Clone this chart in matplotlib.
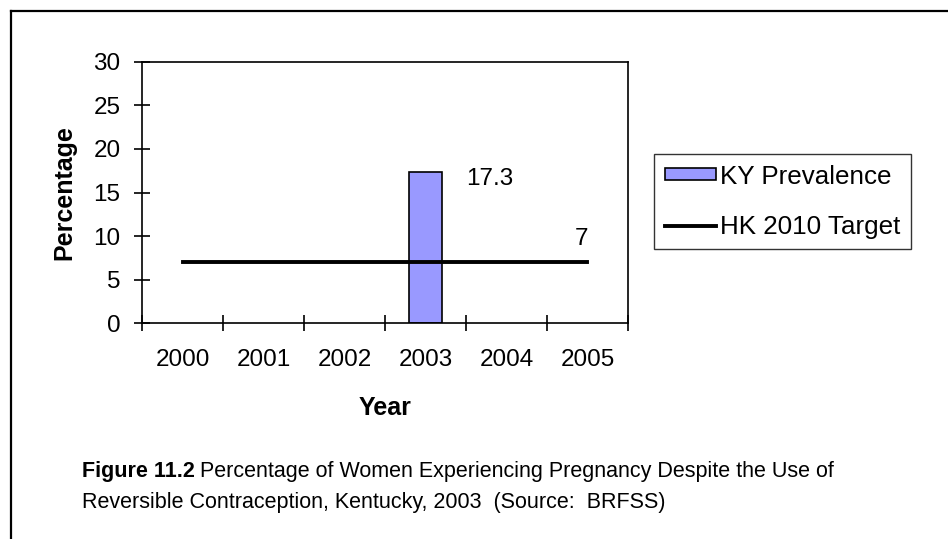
import numpy as np
import matplotlib
matplotlib.use("Agg")
import matplotlib.pyplot as plt
from matplotlib.lines import Line2D

# ---------------------------------------------------------
# data
# ---------------------------------------------------------
years = ['2000', '2001', '2002', '2003', '2004', '2005']
ky_years = ['2003']
ky_prevalence = [17.3]
hk_target = [7, 7, 7, 7, 7, 7]
y_ticks = [0, 5, 10, 15, 20, 25, 30]

plt.rcParams['font.family'] = ['Liberation Sans', 'DejaVu Sans']
FS = 17.5
CAP_FS = 15.5

fig = plt.figure(figsize=(9.48, 5.39), dpi=100)
ax = fig.add_axes([0.1498, 0.4007, 0.5126, 0.4843])

x = np.arange(len(years))
ky_x = [years.index(yr) for yr in ky_years]
bars = ax.bar(ky_x, ky_prevalence, width=0.4, color='#9999FF', edgecolor='black',
              linewidth=1.2, label='KY Prevalence', zorder=2)
line, = ax.plot(x, hk_target, color='black', linewidth=2.8, label='HK 2010 Target', zorder=3)

# value labels
for xi, v in zip(ky_x, ky_prevalence):
    ax.annotate(f"{v:.1f}", (xi, v), xytext=(29, -5), textcoords='offset points',
                ha='left', va='center', fontsize=FS)
ax.annotate(f"{hk_target[-1]}", (x[-1], hk_target[-1]), xytext=(-4, 17),
            textcoords='offset points', ha='center', va='center', fontsize=FS)

# axes
ax.set_xlim(-0.5, len(years) - 0.5)
ax.set_ylim(0, 30)
ax.set_yticks(y_ticks)
ax.set_xticks(np.arange(len(years) + 1) - 0.5)
ax.set_xticklabels([])
ax.set_xticks(x, minor=True)
ax.set_xticklabels(years, minor=True, fontsize=FS)
ax.tick_params(axis='x', which='major', direction='inout', length=11.5, width=1.2)
ax.tick_params(axis='x', which='minor', length=0, pad=19)
ax.tick_params(axis='y', direction='inout', length=12, width=1.2, pad=9.5, labelsize=FS)
for sp in ax.spines.values():
    sp.set_linewidth(1.2)
    sp.set_color('black')

ax.set_ylabel('Percentage', fontsize=18, fontweight='bold', labelpad=12)
ax.set_xlabel('Year', fontsize=18, fontweight='bold', labelpad=18)

leg = ax.legend([bars, line], ['KY Prevalence', 'HK 2010 Target'],
                loc='upper left', bbox_to_anchor=(0.690, 0.714), bbox_transform=fig.transFigure,
                borderaxespad=0, fontsize=18.7, frameon=True, fancybox=False, edgecolor='black',
                handlelength=2.0, handleheight=0.3, handletextpad=0.15, labelspacing=1.0,
                borderpad=0.4)
leg.get_frame().set_linewidth(1.0)

# caption
cap = fig.text(82 / 948, 1 - 477 / 539, 'Figure 11.2', fontsize=CAP_FS, fontweight='bold',
               ha='left', va='baseline')
fig.text(82 / 948, 1 - 508 / 539, 'Reversible Contraception, Kentucky, 2003  (Source:  BRFSS)',
         fontsize=CAP_FS, ha='left', va='baseline')
ax.annotate('Percentage of Women Experiencing Pregnancy Despite the Use of',
            xy=(1, 0), xycoords=cap, xytext=(4, 0), textcoords='offset points',
            fontsize=CAP_FS, ha='left', va='bottom', annotation_clip=False)

# page frame (left and top)
fig.add_artist(Line2D([11 / 948, 11 / 948], [0, 1 - 11 / 539], color='black', linewidth=1.6,
                      transform=fig.transFigure))
fig.add_artist(Line2D([11 / 948, 1], [1 - 11 / 539, 1 - 11 / 539], color='black', linewidth=1.6,
                      transform=fig.transFigure))

fig.savefig('out.png', dpi=100)
